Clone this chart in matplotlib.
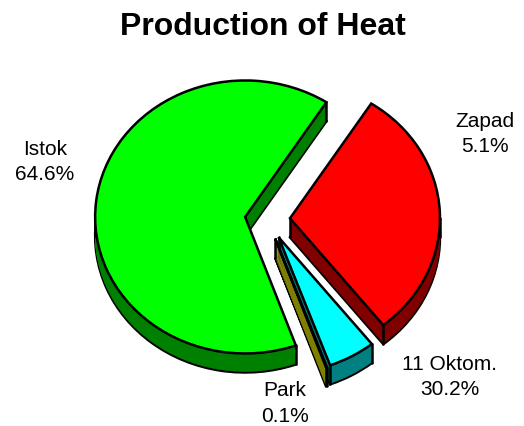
import matplotlib
matplotlib.use("Agg")
import matplotlib.pyplot as plt
import numpy as np

plt.rcParams['font.family'] = ['Liberation Sans', 'DejaVu Sans']

W, H = 524, 426
title = "Production of Heat"
# slices clockwise from the start angle
slice_values = [30.2, 5.1, 0.1, 64.6]
face_colors = ['#ff0000', '#00ffff', '#ffff00', '#00ff00']
side_colors = ['#800000', '#008080', '#808000', '#008000']
side_z = [3, 4, 5, 2]
label_texts = ["Zapad\n5.1%", "Istok\n64.6%", "11 Oktom.\n30.2%", "Park\n0.1%"]
label_pos_px = [(485, 134), (45, 162), (450, 377), (285, 403.5)]

# pie geometry in pixels
CX, CY, RX, RY = 267.5, 219.3, 150.0, 136.5
DEPTH_PX = 19
START = 57.2
EXPLODE = [0.15] * 4
LW = 1.8

fig = plt.figure(figsize=(W / 100, H / 100), dpi=100)
ax = fig.add_axes([0, 0, 1, 1])
depth = DEPTH_PX / RY


def draw_pie(colors, dy, edge, lw):
    wedges, _ = ax.pie(slice_values, explode=EXPLODE, colors=colors, startangle=START,
                       counterclock=False, radius=1.0, center=(0, dy),
                       wedgeprops=dict(edgecolor=edge, linewidth=lw))
    return wedges


# bottom of the extrusion with its outline
for w, z in zip(draw_pie(side_colors, -depth, 'black', LW), side_z):
    w.set_zorder(z)
# body of the extrusion
for k in range(1, DEPTH_PX):
    dy = -depth * (DEPTH_PX - k) / DEPTH_PX
    for w, z, c in zip(draw_pie(side_colors, dy, None, 0), side_z, side_colors):
        w.set_edgecolor(c)
        w.set_linewidth(0.3)
        w.set_zorder(z + 0.01 * k)

# top faces
tops = draw_pie(face_colors, 0, 'black', LW)
for w in tops:
    w.set_zorder(10)
    w.set_joinstyle('miter')

# vertical edges of the walls
for w, z in zip(tops, side_z):
    cx, cy = w.center
    t1, t2 = w.theta1, w.theta2
    angles = [t1, t2] + [a + 360 * n for a in (0, 180) for n in (-1, 0, 1)
                         if t1 < a + 360 * n < t2]
    pts = [(cx, cy)] + [(cx + np.cos(np.radians(a)), cy + np.sin(np.radians(a))) for a in angles]
    for x, y in pts:
        ax.plot([x, x], [y, y - depth], color='black', lw=LW, zorder=z + 0.9,
                solid_capstyle='round')

ax.set_aspect('auto')
ax.set_xlim(-CX / RX, (W - CX) / RX)
ax.set_ylim((CY - H) / RY, CY / RY)
ax.axis('off')

fig.text(262.5 / W, 1 - 27 / H, title, ha='center', va='center',
         fontsize=23, fontweight='bold', color='black')
for txt, (x, y) in zip(label_texts, label_pos_px):
    fig.text(x / W, 1 - y / H, txt, ha='center', va='center', fontsize=15,
             color='black', linespacing=1.4)

fig.savefig('out.png', dpi=100)
